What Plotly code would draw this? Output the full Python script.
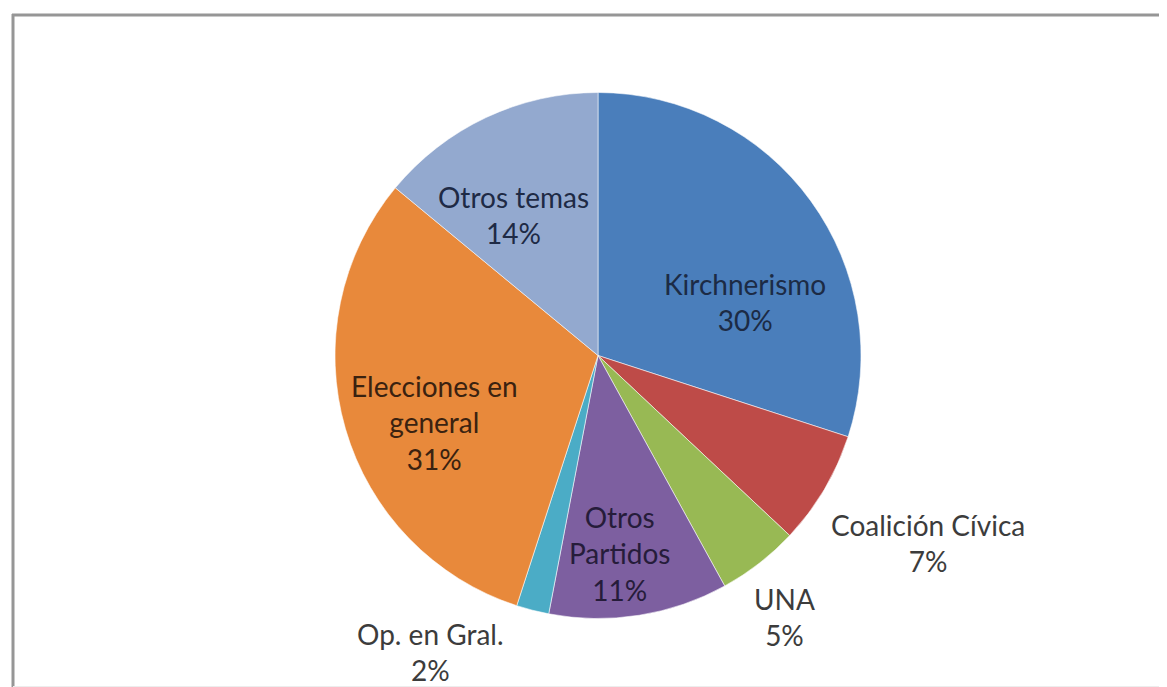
import plotly.graph_objects as go

# ---- data ----
categories = ["Kirchnerismo", "Coalición Cívica", "UNA", "Otros Partidos",
              "Op. en Gral.", "Elecciones en general", "Otros temas"]
values = [30, 7, 5, 11, 2, 31, 14]

# ---- styling / layout ----
W, H = 1167, 687
colors = ["#4A7EBB", "#BE4B48", "#98B954", "#7D5FA0", "#4BACC6", "#E8893B", "#93A9CF"]
display_names = ["Kirchnerismo", "Coalición Cívica", "UNA", "Otros<br>Partidos",
                 "Op. en Gral.", "Elecciones en<br>general", "Otros temas"]
text_colors = ["#1c2b45", "#3c3c3c", "#3c3c3c", "#261c3a", "#3c3c3c", "#3a2210", "#1e2a45"]
# label centres in pixels (layout only)
label_px = [(737, 294), (920, 535), (776, 609), (611, 545), (422, 644), (426, 414), (505, 207)]

cx, cy, R = 590, 347.5, 263

fig = go.Figure(go.Pie(
    labels=categories,
    values=values,
    sort=False,
    direction="clockwise",
    rotation=0,
    marker=dict(colors=colors, line=dict(color="rgba(255,255,255,0.55)", width=1)),
    textinfo="none",
    hoverinfo="label+percent",
    showlegend=False,
    domain=dict(x=[(cx - R) / W, (cx + R) / W],
                y=[(H - cy - R) / H, (H - cy + R) / H]),
))

total = sum(values)
annotations = []
for name, v, tc, (px, py) in zip(display_names, values, text_colors, label_px):
    pct = round(100 * v / total)
    annotations.append(dict(
        x=px / W, y=1 - py / H, xref="paper", yref="paper",
        text=f"{name}<br>{pct}%", showarrow=False,
        xanchor="center", yanchor="middle", align="center",
        font=dict(family="Lato, 'Open Sans', sans-serif", size=28, color=tc),
    ))

shapes = [
    # frame
    dict(type="line", xref="paper", yref="paper", x0=4 / W, x1=1.0, y0=1 - 7 / H, y1=1 - 7 / H,
         line=dict(color="#969696", width=3)),
    dict(type="line", xref="paper", yref="paper", x0=5 / W, x1=5 / W, y0=1 - 6 / H, y1=1 - 680 / H,
         line=dict(color="#969696", width=3)),
    dict(type="line", xref="paper", yref="paper", x0=5 / W, x1=1.0, y0=1 - 679 / H, y1=1 - 679 / H,
         line=dict(color="#ededed", width=2)),
    dict(type="line", xref="paper", yref="paper", x0=1165 / W, x1=1165 / W, y0=1 - 7 / H, y1=1 - 679 / H,
         line=dict(color="#e6e6e6", width=1)),
]

fig.update_layout(
    width=W, height=H,
    margin=dict(l=0, r=0, t=0, b=0),
    paper_bgcolor="white", plot_bgcolor="white",
    annotations=annotations,
    shapes=shapes,
)

fig.write_html("out.html")
